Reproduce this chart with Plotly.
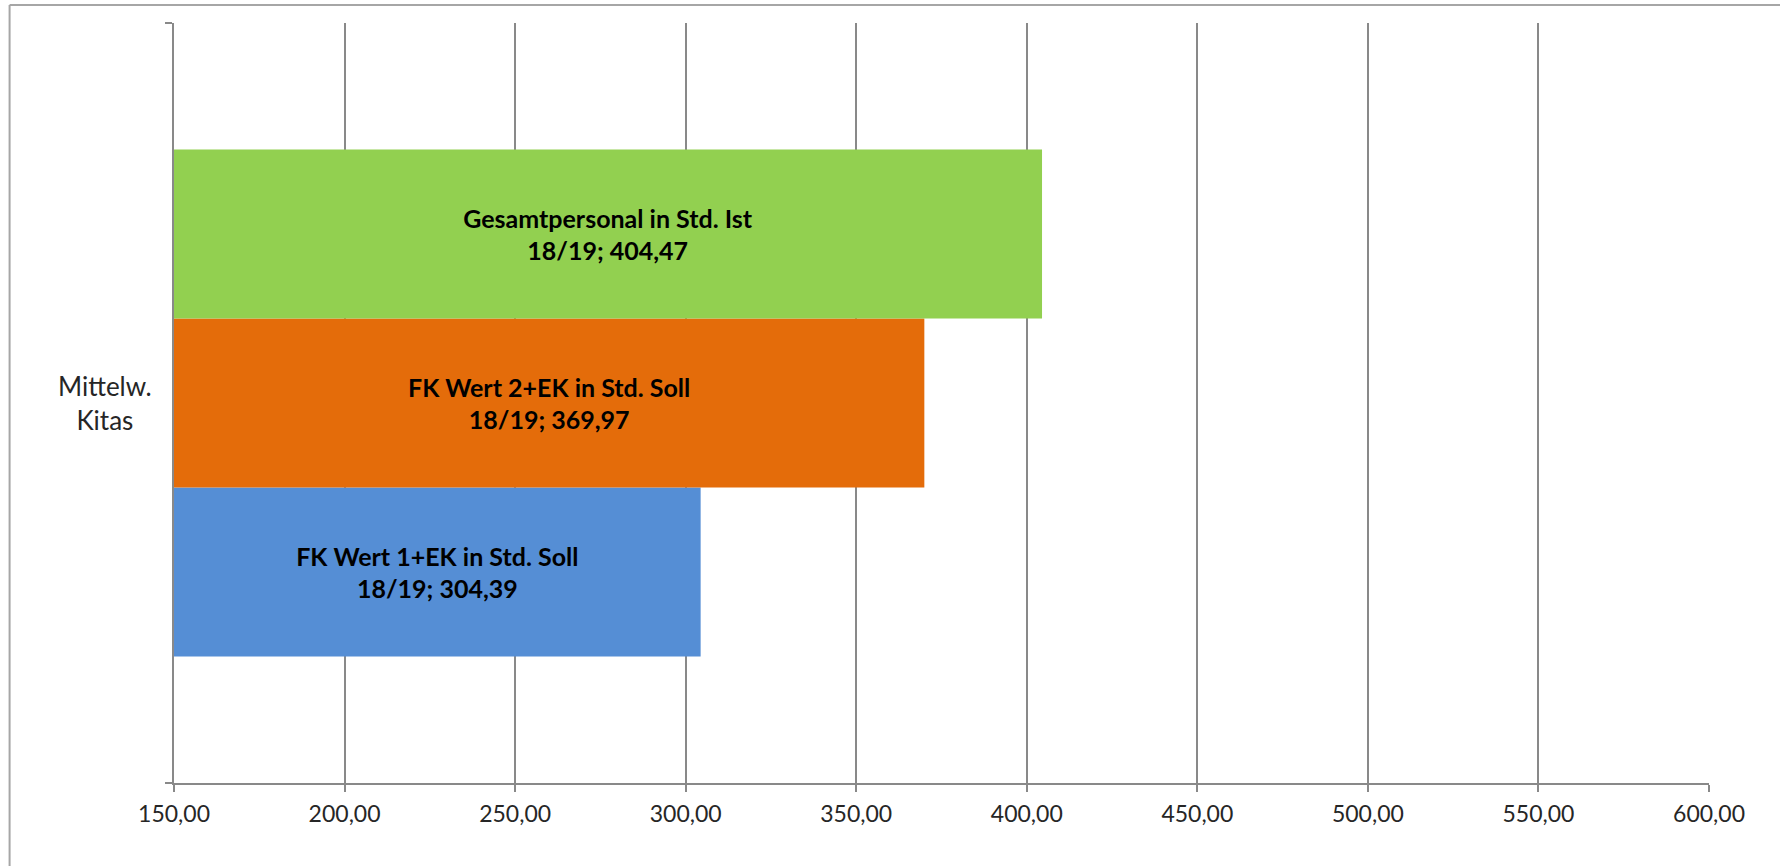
import plotly.graph_objects as go

# ---- data ----
categories = ["Mittelw.<br>Kitas"]
series_names = [
    "FK Wert 1+EK in Std. Soll",
    "FK Wert 2+EK in Std. Soll",
    "Gesamtpersonal in Std. Ist",
]
series_period = ["18/19", "18/19", "18/19"]
series_values = [304.39, 369.97, 404.47]
series_colors = ["#558ED5", "#E46C0A", "#92D050"]
x_ticks = [150, 200, 250, 300, 350, 400, 450, 500, 550, 600]

FONT = "Lato"
GRID = "#898989"
axis_min = x_ticks[0]

fig = go.Figure()
for name, per, val, col in zip(series_names, series_period, series_values, series_colors):
    label = f"{name}<br>{per}; " + f"{val:.2f}".replace(".", ",")
    # bars start at the axis minimum (as in the original chart) so the label is centred on the visible bar
    fig.add_trace(go.Bar(
        y=categories, x=[val - axis_min], base=[axis_min], orientation="h",
        name=f"{name} {per}",
        marker=dict(color=col, line=dict(width=0)),
        text=[label], textposition="inside", insidetextanchor="middle",
        textfont=dict(family=FONT, size=25, color="black", weight="bold"),
        textangle=0,
    ))

W, H = 1780, 866
L, R, T, B = 173.5, 70.7, 23, 83
pw, ph = W - L - R, H - T - B

fig.update_layout(
    width=W, height=H,
    margin=dict(l=L, r=R, t=T, b=B, pad=0),
    paper_bgcolor="white", plot_bgcolor="white",
    barmode="group", bargap=0.333, bargroupgap=0,
    showlegend=False,
    separators=",.",
    xaxis=dict(
        range=[x_ticks[0], x_ticks[-1]], tickvals=x_ticks, tickformat=".2f",
        showgrid=True, gridcolor=GRID, gridwidth=2,
        showline=True, linecolor=GRID, linewidth=2,
        ticks="outside", ticklen=7, tickwidth=2, tickcolor=GRID,
        tickfont=dict(family=FONT, size=23, color="#262626"),
        zeroline=False, ticklabelstandoff=2,
    ),
    yaxis=dict(
        type="category", showticklabels=False,
        showline=True, linecolor=GRID, linewidth=2,
        ticks="outside", ticklen=7, tickwidth=2, tickcolor=GRID,
        tickson="boundaries", showgrid=False, zeroline=False,
    ),
    annotations=[dict(
        text=categories[0], x=(104 - L) / pw, y=categories[0],
        xref="paper", yref="y", xanchor="center", yanchor="middle",
        align="center", showarrow=False,
        font=dict(family=FONT, size=26, color="#262626"),
    )],
    shapes=[
        dict(type="line", xref="paper", yref="paper",
             x0=(9 - L) / pw, x1=(W + 10 - L) / pw,
             y0=(H - B - 5) / ph, y1=(H - B - 5) / ph,
             line=dict(color="#A6A6A6", width=2)),
        dict(type="line", xref="paper", yref="paper",
             x0=(9 - L) / pw, x1=(9 - L) / pw,
             y0=(H - B - 5) / ph, y1=-(B + 10) / ph,
             line=dict(color="#A6A6A6", width=2)),
    ],
)

fig.write_html(
    "out.html",
    config={"displayModeBar": False},
    post_script="document.body.style.margin='0px';document.body.style.overflow='hidden';",
)
